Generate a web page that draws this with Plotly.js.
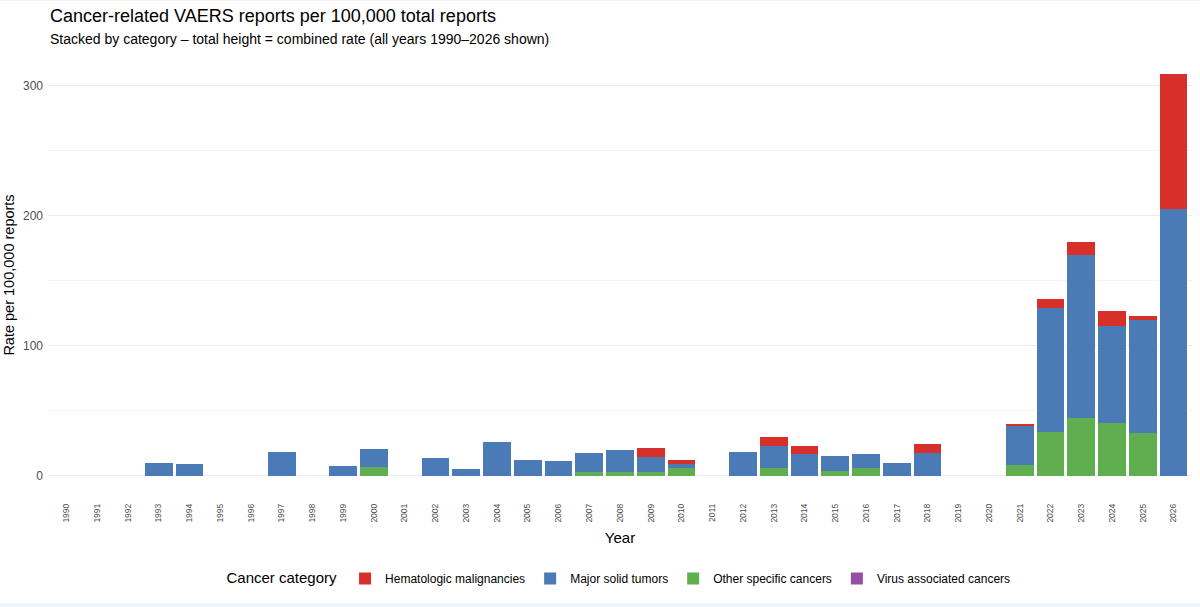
<!DOCTYPE html>
<html>
<head>
<meta charset="utf-8">
<script src="https://cdn.plot.ly/plotly-3.0.1.min.js"></script>
<style>
  html, body { margin: 0; padding: 0; background: #EFF4FB; }
  #chart { width: 1200px; height: 602px; margin-top: 1px; background: #ffffff; }
</style>
</head>
<body>
<div id="chart"></div>
<script>
const years = ["1990","1991","1992","1993","1994","1995","1996","1997","1998","1999",
  "2000","2001","2002","2003","2004","2005","2006","2007","2008","2009",
  "2010","2011","2012","2013","2014","2015","2016","2017","2018","2019",
  "2020","2021","2022","2023","2024","2025","2026"];

// Segment heights (rate per 100,000 reports)
const otherSpecific = [0,0,0,0,0,0,0,0,0,0,
  6.7,0,0,0,0,0,0,3.1,3.1,2.6,
  6.2,0,0,6.2,0,3.8,6.2,0,0,0,
  0,8.4,34.1,44.9,40.3,32.6,0];
const majorSolid = [0,0,0,9.7,9.2,0,0,18.2,0,7.9,
  14.3,0,13.8,5.4,25.9,12.3,11.3,14.3,16.6,12.0,
  3.0,0,18.7,16.9,16.9,11.6,11.0,10.0,17.4,0,
  0,29.6,94.9,125.1,74.8,87.7,205.6];
const hematologic = [0,0,0,0,0,0,0,0,0,0,
  0,0,0,0,0,0,0,0,0,6.7,
  3.1,0,0,6.9,6.2,0,0,0,7.0,0,
  0,2.0,7.2,9.7,11.8,2.8,103.6];
const virusAssoc = [0,0,0,0,0,0,0,0,0,0,
  0,0,0,0,0,0,0,0,0,0,
  0,0,0,0,0,0,0,0,0,0,
  0,0,0,0,0,0,0];

const categoryNames = ["Hematologic malignancies","Major solid tumors","Other specific cancers","Virus associated cancers"];
const categoryColors = ["#D7302A","#4B7BB6","#5FAE50","#944FA2"];

const titleText = "Cancer-related VAERS reports per 100,000 total reports";
const subtitleText = "Stacked by category – total height = combined rate (all years 1990–2026 shown)";

function mk(name, y, color, rank) {
  return {
    type: "bar", x: years, y: y, name: name,
    marker: { color: color, line: { width: 0 } },
    legendrank: rank,
    hovertemplate: "%{x}: %{y}<extra>" + name + "</extra>"
  };
}

const data = [
  mk(categoryNames[2], otherSpecific, categoryColors[2], 3),
  mk(categoryNames[1], majorSolid, categoryColors[1], 2),
  mk(categoryNames[0], hematologic, categoryColors[0], 1),
  mk(categoryNames[3], virusAssoc, categoryColors[3], 4)
];

const layout = {
  width: 1200, height: 602,
  barmode: "stack",
  bargap: 0.1,
  paper_bgcolor: "#ffffff",
  plot_bgcolor: "#ffffff",
  font: { family: "Liberation Sans, Arial, sans-serif", color: "#000000" },
  margin: { l: 48, r: 7.5, t: 53, b: 107, autoexpand: false },
  annotations: [
    { text: titleText, xref: "paper", yref: "paper", x: 0, y: 1.086,
      xanchor: "left", yanchor: "middle", showarrow: false,
      font: { size: 18, color: "#000000" } },
    { text: subtitleText, xref: "paper", yref: "paper", x: 0, y: 1.034,
      xanchor: "left", yanchor: "middle", showarrow: false,
      font: { size: 14, color: "#000000" } }
  ],
  xaxis: {
    type: "category",
    range: [-0.6, 36.6],
    tickangle: -90,
    tickfont: { size: 8.5, color: "#4d4d4d" },
    showgrid: false, zeroline: false, showline: false,
    ticks: "", ticklabelstandoff: 5,
    title: { text: "Year", font: { size: 15, color: "#000000" }, standoff: 10 }
  },
  yaxis: {
    range: [-15.5, 324.6],
    tickvals: [0, 100, 200, 300],
    tickfont: { size: 12, color: "#4d4d4d" },
    gridcolor: "#EBEBEB", gridwidth: 1,
    minor: { tickvals: [50, 150, 250], showgrid: true, gridcolor: "#F4F4F4", gridwidth: 1 },
    zeroline: false, showline: false, ticks: "",
    ticklabelstandoff: 4,
    title: { text: "Rate per 100,000 reports", font: { size: 14.5, color: "#000000" }, standoff: 4 }
  },
  legend: {
    orientation: "h",
    x: 0.5, xanchor: "center", xref: "paper",
    y: 0.04, yanchor: "middle", yref: "container",
    traceorder: "normal",
    font: { size: 12 },
    title: { text: "Cancer category", font: { size: 15 } },
    itemsizing: "constant"
  },
  showlegend: true
};

Plotly.newPlot("chart", data, layout, { displayModeBar: false, staticPlot: true });
</script>
</body>
</html>
